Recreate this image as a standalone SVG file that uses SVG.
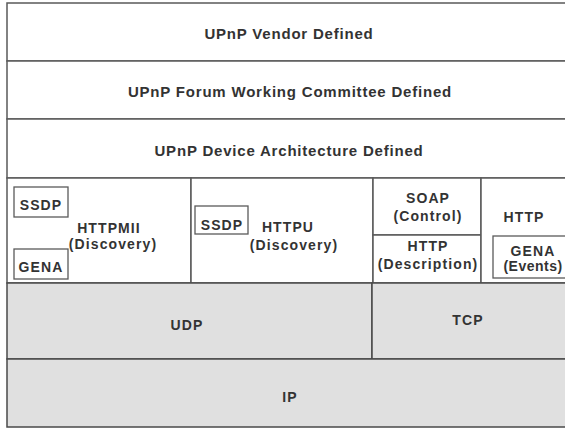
<svg xmlns="http://www.w3.org/2000/svg" width="565" height="428" viewBox="0 0 565 428">
<style>
.box{fill:#ffffff;stroke:#5a5a5a;stroke-width:1.5}
.gbox{fill:#e0e0e0;stroke:#4a4a4a;stroke-width:1.5}
.sub{fill:none;stroke:#5a5a5a;stroke-width:1.3}
.t{font-family:"Liberation Sans",Arial,sans-serif;font-weight:bold;fill:#333333;text-anchor:middle}
.big{font-size:15px;letter-spacing:0.8px}
.sm{font-size:14px;letter-spacing:1.1px}
</style>
<rect x="0" y="0" width="565" height="428" fill="#ffffff"/>
<g id="vendor"><rect class="box" x="7" y="3" width="570" height="58"/><text class="t big" x="289" y="39">UPnP Vendor Defined</text></g>
<g id="forum"><rect class="box" x="7" y="61" width="570" height="58"/><text class="t big" x="290" y="97">UPnP Forum Working Committee Defined</text></g>
<g id="device"><rect class="box" x="7" y="119" width="570" height="59"/><text class="t big" x="289" y="156">UPnP Device Architecture Defined</text></g>
<g id="httpmu"><rect class="box" x="7" y="178" width="184" height="105"/>
<text class="t sm" x="109" y="233">HTTPMII</text><text class="t sm" x="113" y="249">(Discovery)</text></g>
<g id="ssdp1"><rect class="sub" x="14" y="187" width="54" height="30"/><text class="t sm" x="41" y="210">SSDP</text></g>
<g id="gena1"><rect class="sub" x="14" y="249" width="54" height="30"/><text class="t sm" x="41" y="272">GENA</text></g>
<g id="httpu"><rect class="box" x="191" y="178" width="182" height="105"/>
<text class="t sm" x="288" y="232">HTTPU</text><text class="t sm" x="294" y="250">(Discovery)</text></g>
<g id="ssdp2"><rect class="sub" x="195" y="206" width="53" height="28"/><text class="t sm" x="222" y="230">SSDP</text></g>
<g id="soap"><rect class="box" x="373" y="178" width="108" height="57"/>
<text class="t sm" x="428" y="203">SOAP</text><text class="t sm" x="428" y="221">(Control)</text></g>
<g id="httpdesc"><rect class="box" x="373" y="235" width="108" height="48"/>
<text class="t sm" x="428" y="251">HTTP</text><text class="t sm" x="428" y="269">(Description)</text></g>
<g id="http"><rect class="box" x="481" y="178" width="96" height="105"/><text class="t sm" x="524" y="222">HTTP</text></g>
<g id="gena2"><rect class="sub" x="493" y="236" width="80" height="42"/>
<text class="t sm" x="533" y="256">GENA</text><text class="t sm" x="533" y="271" style="letter-spacing:0.5px">(Events)</text></g>
<g id="udp"><rect class="gbox" x="7" y="283" width="365" height="76"/><text class="t sm" x="187" y="330">UDP</text></g>
<g id="tcp"><rect class="gbox" x="372" y="283" width="205" height="76"/><text class="t sm" x="468" y="325">TCP</text></g>
<g id="ip"><rect class="gbox" x="7" y="359" width="570" height="68"/><text class="t sm" x="290" y="402">IP</text></g>
<g id="connectors"></g>
</svg>
